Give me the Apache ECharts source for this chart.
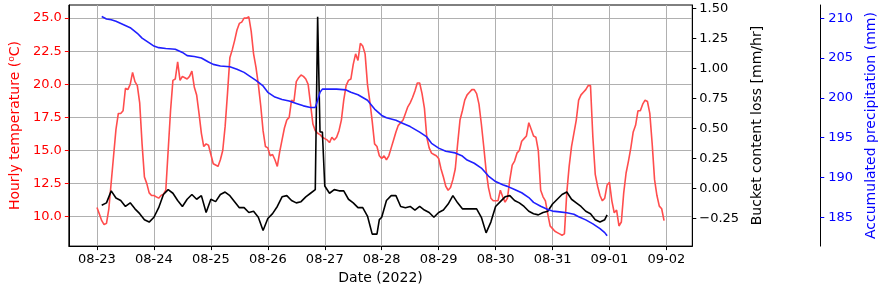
<!DOCTYPE html>
<html lang="en">
<head>
<meta charset="UTF-8">
<title>Temperature, bucket loss and precipitation</title>
<script src="https://cdn.jsdelivr.net/npm/echarts@6.0.0/dist/echarts.min.js"></script>
<style>
  html, body { margin: 0; padding: 0; background: #fff; }
  .box { width: 886px; height: 290px; }
</style>
</head>
<body>
<div class="box"></div>
<script>
// hourly temperature, 08-23 00:00 .. 09-01 23:00
const tempC = [
  10.7,10.2,9.7,9.4,9.5,10.6,12.6,14.6,16.6,17.8,17.8,18.0,19.7,19.6,20.0,20.9,20.2,19.9,18.6,15.5,13.0,12.5,11.8,11.6,
  11.6,11.5,11.4,11.6,11.7,12.0,15.0,18.0,20.3,20.4,21.7,20.3,20.6,20.5,20.4,20.6,21.0,19.8,19.2,17.8,16.3,15.3,15.5,15.4,
  14.7,14.0,13.9,13.8,14.3,15.0,16.8,19.3,22.0,22.6,23.3,24.1,24.6,24.7,25.0,25.0,25.1,24.0,22.3,21.3,20.0,18.4,16.5,15.3,
  15.2,14.6,14.7,14.3,13.8,14.9,15.8,16.7,17.3,17.5,18.8,18.7,20.2,20.5,20.7,20.6,20.4,20.0,18.5,17.0,16.5,16.3,16.2,16.0,
  15.9,15.8,15.6,16.0,15.8,16.0,16.5,17.3,18.8,19.9,20.3,20.4,21.5,22.3,21.8,23.1,22.9,22.3,20.0,18.7,17.2,15.5,15.3,14.6,
  14.4,14.6,14.3,14.6,15.2,15.8,16.4,16.9,17.1,17.3,17.8,18.3,18.6,19.0,19.5,20.1,20.1,19.3,18.2,16.0,15.2,14.8,14.7,14.6,
  14.4,13.6,13.0,12.3,12.0,12.2,12.8,13.6,15.5,17.3,18.0,18.8,19.2,19.4,19.6,19.6,19.3,18.5,17.0,15.3,13.5,12.2,11.4,11.2,
  11.2,11.2,12.0,11.5,11.1,11.4,12.8,13.9,14.2,14.8,15.0,15.7,15.9,16.1,17.1,16.6,16.1,16.0,15.0,12.0,11.5,11.2,10.2,9.3,
  9.1,8.9,8.8,8.7,8.6,8.7,11.8,13.8,15.3,16.3,17.3,18.8,19.2,19.4,19.6,19.9,19.9,16.0,13.2,12.3,11.6,11.2,11.4,12.4,
  12.6,11.2,10.3,10.5,9.3,9.6,11.8,13.3,14.2,15.2,16.4,16.9,18.0,18.0,18.5,18.8,18.7,17.8,15.5,12.8,11.6,10.8,10.6,9.7
];

// bucket content loss, hours counted from 08-23 00:00
const bucketHours = [
  2,4,6,8,10,12,14,16,18,20,22,24,26,28,30,32,34,36,38,40,42,44,46,48,50,52,54,56,58,60,
  62,64,66,68,70,72,74,76,78,80,82,84,86,88,90,92,93,94,95,96,98,100,102,104,106,108,110,112,114,116,
  118,119,120,122,124,126,128,130,132,134,136,138,140,142,144,146,148,150,152,154,156,158,160,162,164,166,168,170,172,174,
  176,178,180,182,184,186,188,190,192,194,196,198,200,202,204,206,208,210,212,214,215
];
const bucketLoss = [
  -0.14,-0.12,-0.02,-0.08,-0.10,-0.15,-0.12,-0.17,-0.21,-0.26,-0.28,-0.24,-0.16,-0.05,-0.01,-0.04,-0.10,-0.15,-0.09,-0.05,-0.09,-0.06,-0.20,-0.09,-0.11,-0.05,-0.03,-0.06,-0.11,-0.16,
  -0.16,-0.20,-0.19,-0.24,-0.35,-0.25,-0.21,-0.15,-0.07,-0.06,-0.10,-0.12,-0.11,-0.07,-0.04,-0.01,1.43,0.47,0.47,0.02,-0.04,-0.01,-0.02,-0.02,-0.09,-0.12,-0.16,-0.16,-0.23,-0.38,
  -0.38,-0.26,-0.24,-0.10,-0.06,-0.06,-0.15,-0.16,-0.15,-0.18,-0.15,-0.18,-0.20,-0.24,-0.20,-0.18,-0.13,-0.06,-0.12,-0.17,-0.17,-0.17,-0.17,-0.24,-0.37,-0.28,-0.15,-0.11,-0.07,-0.06,
  -0.10,-0.12,-0.15,-0.19,-0.21,-0.22,-0.20,-0.19,-0.13,-0.09,-0.05,-0.03,-0.09,-0.12,-0.15,-0.19,-0.21,-0.26,-0.28,-0.26,-0.22
];

// accumulated precipitation, hours counted from 08-23 00:00
const precipHours = [
  2,4,6,8,11,14,17,19,22,24,26,29,33,36,38,41,44,47,49,52,56,59,62,64,67,70,72,75,78,81,
  84,87,90,92,93,94,95,96,101,105,107,110,114,117,120,122,126,129,132,136,139,141,144,147,151,154,156,159,162,165,
  168,171,173,176,179,182,184,187,190,192,195,198,201,203,206,209,212,214,215
];
const precipMm = [
  210.2,209.9,209.8,209.6,209.2,208.8,208.1,207.5,206.9,206.5,206.3,206.2,206.1,205.7,205.3,205.2,205.0,204.5,204.2,204.0,203.9,203.6,203.2,202.8,202.2,201.5,200.7,200.1,199.8,199.6,
  199.3,199.0,198.8,198.8,199.7,200.7,201.1,201.1,201.1,201.0,200.7,200.4,199.7,198.6,197.8,197.5,197.2,196.8,196.4,195.7,195.1,194.3,193.7,193.3,193.1,192.7,192.2,191.8,191.2,190.2,
  189.5,189.1,188.9,188.5,188.1,187.5,186.9,186.4,186.0,185.8,185.7,185.6,185.4,185.1,184.7,184.2,183.6,183.1,182.7
];

const tempTicks = [10, 12.5, 15, 17.5, 20, 22.5, 25];
const bucketTicks = [-0.25, 0, 0.25, 0.5, 0.75, 1, 1.25, 1.5];
const precipTicks = [185, 190, 195, 200, 205, 210];
const dayLabels = ['08-23','08-24','08-25','08-26','08-27','08-28','08-29','08-30','08-31','09-01','09-02'];
const dayTicks = dayLabels.map((d, i) => 24 * i); // hours from 08-23 00:00

const font = 'DejaVu Sans';
const grey = '#b0b0b0';

let chart = echarts.init(document.querySelector('.box'), null, { renderer: 'canvas' });

let option = {
  animation: false,
  textStyle: { fontFamily: font },
  grid: {
    left: 62, right: 181, top: 5, bottom: 41,
    show: true, borderColor: '#000', borderWidth: 1
  },
  xAxis: {
    type: 'value',
    min: -11.86,
    max: 250.9,
    name: 'Date (2022)',
    nameLocation: 'middle',
    nameGap: 24,
    nameTextStyle: { fontSize: 14, color: '#000', fontFamily: font },
    axisLine: { show: true, onZero: false, lineStyle: { color: '#000' } },
    axisTick: { show: true, length: 4, customValues: dayTicks, lineStyle: { color: '#000' } },
    axisLabel: {
      customValues: dayTicks,
      fontSize: 13, color: '#000', margin: 7, fontFamily: font,
      formatter: v => dayLabels[Math.round(v / 24)]
    },
    splitLine: { show: true, lineStyle: { color: grey, width: 1 } }
  },
  yAxis: [
    { // temperature
      type: 'value', position: 'left',
      min: 7.78, max: 25.99,
      name: 'Hourly temperature (⁰C)',
      nameLocation: 'middle', nameGap: 44,
      nameTextStyle: { fontSize: 14, color: '#ff0000', fontFamily: font },
      axisLine: { show: true, onZero: false, lineStyle: { color: '#000' } },
      axisTick: { show: true, length: 4, customValues: tempTicks, lineStyle: { color: '#ff0000' } },
      axisLabel: {
        customValues: tempTicks, fontSize: 13, color: '#ff0000', margin: 7, fontFamily: font,
        formatter: v => v.toFixed(1)
      },
      splitLine: { show: true, lineStyle: { color: grey, width: 1 } }
    },
    { // bucket loss
      type: 'value', position: 'right',
      min: -0.48, max: 1.527,
      name: 'Bucket content loss [mm/hr]',
      nameLocation: 'middle', nameGap: 53,
      nameTextStyle: { fontSize: 14, color: '#000', fontFamily: font },
      axisLine: { show: true, onZero: false, lineStyle: { color: '#000' } },
      axisTick: { show: true, length: 4, customValues: bucketTicks, lineStyle: { color: '#000' } },
      axisLabel: {
        customValues: bucketTicks, fontSize: 13, color: '#000', margin: 7, fontFamily: font,
        formatter: v => (v < 0 ? '\u2212' : '') + Math.abs(v).toFixed(2)
      },
      splitLine: { show: false }
    },
    { // precipitation
      type: 'value', position: 'right', offset: 128,
      min: 181.41, max: 211.65,
      name: 'Accumulated precipitation (mm)',
      nameLocation: 'middle', nameGap: 38,
      nameTextStyle: { fontSize: 14, color: '#0000ff', fontFamily: font },
      axisLine: { show: true, onZero: false, lineStyle: { color: '#000' } },
      axisTick: { show: true, length: 4, customValues: precipTicks, lineStyle: { color: '#0000ff' } },
      axisLabel: {
        customValues: precipTicks, fontSize: 13, color: '#0000ff', margin: 8, fontFamily: font,
        formatter: v => String(v)
      },
      splitLine: { show: false }
    }
  ],
  series: [
    {
      name: 'temperature', type: 'line', yAxisIndex: 0,
      data: tempC.map((v, i) => [i, v]),
      showSymbol: false,
      lineStyle: { color: '#ff4d4d', width: 1.6 }
    },
    {
      name: 'bucket', type: 'line', yAxisIndex: 1,
      data: bucketHours.map((h, i) => [h, bucketLoss[i]]),
      showSymbol: false,
      lineStyle: { color: '#000', width: 1.6 }
    },
    {
      name: 'precip', type: 'line', yAxisIndex: 2,
      data: precipHours.map((h, i) => [h, precipMm[i]]),
      showSymbol: false,
      lineStyle: { color: '#2020ff', width: 1.6 }
    }
  ]
};
chart.setOption(option);
</script>
</body>
</html>
